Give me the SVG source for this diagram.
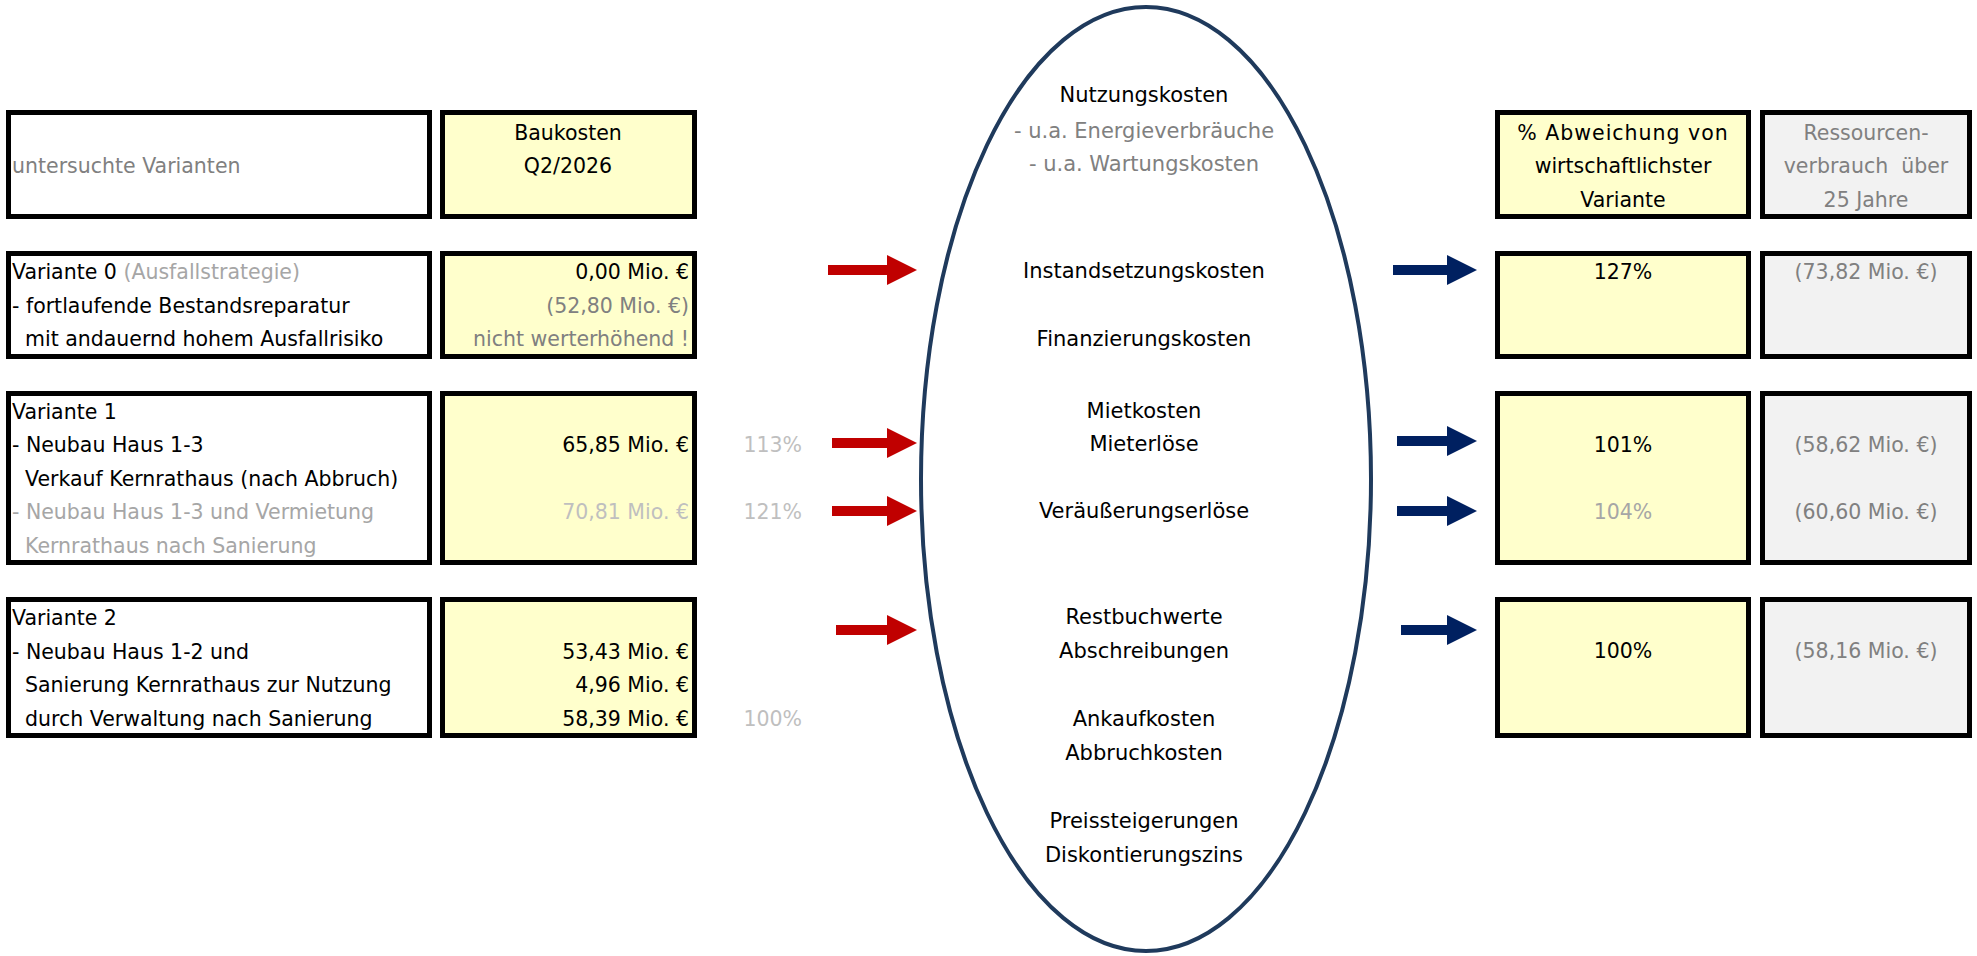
<svg xmlns="http://www.w3.org/2000/svg" width="1977" height="956" viewBox="0 0 1977 956">
<style>
text{font-family:"DejaVu Sans","Liberation Sans",sans-serif;font-size:20.5px;fill:#000}
.box{stroke:#000;stroke-width:5;fill:#fff}
.y{fill:#FFFFCC}
.g{fill:#F2F2F2}
.gr{fill:#808080}
.lg{fill:#A6A6A6}
.xl{fill:#BFBFBF}
.e{text-anchor:end}
.m{text-anchor:middle}
.el{font-size:21px}
.red{stroke:#C00000;stroke-width:10;marker-end:url(#ar)}
.blue{stroke:#002060;stroke-width:10;marker-end:url(#ab)}
</style>
<defs>
<marker id="ar" markerUnits="userSpaceOnUse" markerWidth="30" markerHeight="30" refX="0" refY="15" orient="auto"><path d="M0,0 L30,15 L0,30 z" fill="#C00000"/></marker>
<marker id="ab" markerUnits="userSpaceOnUse" markerWidth="30" markerHeight="30" refX="0" refY="15" orient="auto"><path d="M0,0 L30,15 L0,30 z" fill="#002060"/></marker>
</defs>
<rect width="1977" height="956" fill="#fff"/>

<g id="ellipse">
<ellipse cx="1146" cy="479" rx="225" ry="472" fill="none" stroke="#1F3A5C" stroke-width="4"/>
<text class="m el" x="1144" y="102">Nutzungskosten</text>
<text class="m el gr" x="1144" y="138">- u.a. Energieverbräuche</text>
<text class="m el gr" x="1144" y="171">- u.a. Wartungskosten</text>
<text class="m el" x="1144" y="278">Instandsetzungskosten</text>
<text class="m el" x="1144" y="346">Finanzierungskosten</text>
<text class="m el" x="1144" y="418">Mietkosten</text>
<text class="m el" x="1144" y="451">Mieterlöse</text>
<text class="m el" x="1144" y="518">Veräußerungserlöse</text>
<text class="m el" x="1144" y="624">Restbuchwerte</text>
<text class="m el" x="1144" y="658">Abschreibungen</text>
<text class="m el" x="1144" y="726">Ankaufkosten</text>
<text class="m el" x="1144" y="760">Abbruchkosten</text>
<text class="m el" x="1144" y="828">Preissteigerungen</text>
<text class="m el" x="1144" y="862">Diskontierungszins</text>
</g>

<g id="header-varianten">
<rect class="box" x="8.5" y="112.5" width="421" height="104"/>
<text class="gr" x="12" y="173">untersuchte Varianten</text>
</g>
<g id="header-baukosten">
<rect class="box y" x="442.5" y="112.5" width="252" height="104"/>
<text class="m" x="568" y="140">Baukosten</text>
<text class="m" x="568" y="173">Q2/2026</text>
</g>
<g id="header-abweichung">
<rect class="box y" x="1497.5" y="112.5" width="251" height="104"/>
<text class="m" x="1623" y="140" letter-spacing="1">% Abweichung von</text>
<text class="m" x="1623" y="173">wirtschaftlichster</text>
<text class="m" x="1623" y="207">Variante</text>
</g>
<g id="header-ressourcen">
<rect class="box g" x="1762.5" y="112.5" width="207" height="104"/>
<text class="m gr" x="1866" y="140">Ressourcen-</text>
<text class="m gr" x="1866" y="173" xml:space="preserve">verbrauch  über</text>
<text class="m gr" x="1866" y="207">25 Jahre</text>
</g>

<g id="v0-label">
<rect class="box" x="8.5" y="253.5" width="421" height="103"/>
<text x="12" y="279">Variante 0 <tspan class="lg">(Ausfallstrategie)</tspan></text>
<text x="12" y="313">- fortlaufende Bestandsreparatur</text>
<text x="25" y="346">mit andauernd hohem Ausfallrisiko</text>
</g>
<g id="v0-kosten">
<rect class="box y" x="442.5" y="253.5" width="252" height="103"/>
<text class="e" x="689" y="279">0,00 Mio. €</text>
<text class="e gr" x="689" y="313">(52,80 Mio. €)</text>
<text class="e gr" x="689" y="346">nicht werterhöhend !</text>
</g>
<g id="v0-abw">
<rect class="box y" x="1497.5" y="253.5" width="251" height="103"/>
<text class="m" x="1623" y="279">127%</text>
</g>
<g id="v0-res">
<rect class="box g" x="1762.5" y="253.5" width="207" height="103"/>
<text class="m gr" x="1866" y="279">(73,82 Mio. €)</text>
</g>

<g id="v1-label">
<rect class="box" x="8.5" y="393.5" width="421" height="169"/>
<text x="12" y="419">Variante 1</text>
<text x="12" y="452">- Neubau Haus 1-3</text>
<text x="25" y="486">Verkauf Kernrathaus (nach Abbruch)</text>
<text class="lg" x="12" y="519">- Neubau Haus 1-3 und Vermietung</text>
<text class="lg" x="25" y="553">Kernrathaus nach Sanierung</text>
</g>
<g id="v1-kosten">
<rect class="box y" x="442.5" y="393.5" width="252" height="169"/>
<text class="e" x="689" y="452">65,85 Mio. €</text>
<text class="e xl" x="689" y="519">70,81 Mio. €</text>
</g>
<g id="v1-pct">
<text class="e xl" x="802" y="452">113%</text>
<text class="e xl" x="802" y="519">121%</text>
</g>
<g id="v1-abw">
<rect class="box y" x="1497.5" y="393.5" width="251" height="169"/>
<text class="m" x="1623" y="452">101%</text>
<text class="m lg" x="1623" y="519">104%</text>
</g>
<g id="v1-res">
<rect class="box g" x="1762.5" y="393.5" width="207" height="169"/>
<text class="m gr" x="1866" y="452">(58,62 Mio. €)</text>
<text class="m gr" x="1866" y="519">(60,60 Mio. €)</text>
</g>

<g id="v2-label">
<rect class="box" x="8.5" y="599.5" width="421" height="136"/>
<text x="12" y="625">Variante 2</text>
<text x="12" y="659">- Neubau Haus 1-2 und</text>
<text x="25" y="692">Sanierung Kernrathaus zur Nutzung</text>
<text x="25" y="726">durch Verwaltung nach Sanierung</text>
</g>
<g id="v2-kosten">
<rect class="box y" x="442.5" y="599.5" width="252" height="136"/>
<text class="e" x="689" y="659">53,43 Mio. €</text>
<text class="e" x="689" y="692">4,96 Mio. €</text>
<text class="e" x="689" y="726">58,39 Mio. €</text>
</g>
<g id="v2-pct">
<text class="e xl" x="802" y="726">100%</text>
</g>
<g id="v2-abw">
<rect class="box y" x="1497.5" y="599.5" width="251" height="136"/>
<text class="m" x="1623" y="658">100%</text>
</g>
<g id="v2-res">
<rect class="box g" x="1762.5" y="599.5" width="207" height="136"/>
<text class="m gr" x="1866" y="658">(58,16 Mio. €)</text>
</g>

<g id="connectors">
<line class="red" x1="828" y1="270" x2="887" y2="270"/>
<line class="red" x1="832" y1="443" x2="887" y2="443"/>
<line class="red" x1="832" y1="511" x2="887" y2="511"/>
<line class="red" x1="836" y1="630" x2="887" y2="630"/>
<line class="blue" x1="1393" y1="270" x2="1447" y2="270"/>
<line class="blue" x1="1397" y1="441" x2="1447" y2="441"/>
<line class="blue" x1="1397" y1="511" x2="1447" y2="511"/>
<line class="blue" x1="1401" y1="630" x2="1447" y2="630"/>
</g>
</svg>
